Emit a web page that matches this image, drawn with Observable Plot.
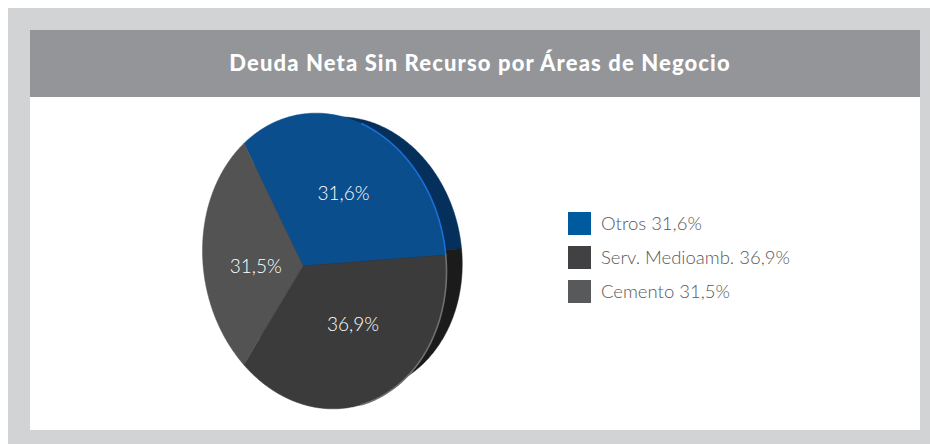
<!DOCTYPE html>
<html lang="es">
<head>
<meta charset="utf-8">
<script src="https://cdn.jsdelivr.net/npm/d3@7"></script>
<script src="https://cdn.jsdelivr.net/npm/@observablehq/plot@0.6"></script>
<style>
  html, body { margin: 0; padding: 0; background: #fff; width: 930px; height: 444px; overflow: hidden; }
  #frame { position: absolute; left: 8px; top: 8px; width: 922px; height: 436px; background: #d1d3d4; }
  #panel { position: absolute; left: 22px; top: 22px; width: 890px; height: 400px; background: #fff; }
  #title { margin: 0; height: 67px; padding-left: 10px; box-sizing: border-box; text-align: center; background: #939598; color: #fff;
           font: 900 22px/66px Lato, sans-serif; letter-spacing: 1.12px; }
  #chart { position: absolute; left: 0; top: 67px; }
  #chart svg { display: block; }
  #legend { position: absolute; left: 538px; top: 176px; font: 300 18.5px Lato, sans-serif; color: #58595b; }
  .row { display: flex; align-items: center; height: 34px; }
  .sw { width: 23px; height: 23px; margin-right: 10px; }
</style>
</head>
<body>
<div id="frame"><div id="panel">
  <h1 id="title">Deuda Neta Sin Recurso por Áreas de Negocio</h1>
  <div id="chart"></div>
  <div id="legend"></div>
</div></div>
<script>
const names = ["Otros", "Serv. Medioamb.", "Cemento"];
const values = [31.6, 36.9, 31.5];
const valueLabels = ["31,6%", "36,9%", "31,5%"];
const faceColors = ["#0a4e8d", "#3a3b3a", "#525352"];
const sideColors = ["#05305c", "#1b1b1b", "#1b1b1b"];
const rimColors = ["#1a6fd6", "#6f7071", "#525352"];
const legendColors = ["#005a9e", "#414042", "#58595b"];
const labelNudge = [[11, 2], [15, -14], [12, 9]];

// View of the disc in perspective: the centre of the pie sits off the centre of its outline, which leans a little.
const tilt = [-0.176, 0.046];
const lean = 0.07;
function view([x, y]) {
  const [ax, ay] = tilt, a2 = ax * ax + ay * ay, s = Math.sqrt(1 - a2);
  const d = x * ax + y * ay, k = d / a2;
  const den = 1 + d;
  const px = (ax + k * ax + s * (x - k * ax)) / den, py = (ay + k * ay + s * (y - k * ay)) / den;
  return [px, py + lean * px];
}
const deg = Math.PI / 180;
const polar = (r, t) => view([r * Math.sin(t), -r * Math.cos(t)]);

const start = -31.5 * deg;
const arcs = d3.pie().sort(null).startAngle(start).endAngle(start + 2 * Math.PI)(values);

function arcPts(a) {
  const n = Math.ceil((a.endAngle - a.startAngle) / 0.01);
  return d3.range(n + 1).map(i => polar(1, a.startAngle + (a.endAngle - a.startAngle) * i / n));
}
const face = arcs.flatMap((a, i) =>
  [polar(0, 0), ...arcPts(a), polar(0, 0)].map(([x, y]) => ({x, y, i, name: names[i]})));
// Highlight only on the right-hand edge, where the disc turns away.
const rim = arcs.flatMap((a, i) => arcPts(a).map(([x, y]) => ({x, y, i}))).filter(d => d.x > 0.3 && d.i < 2);
// Back of the disc: same wedges on an outline shifted right and slightly smaller.
const backX = x => 0.186 + x * 0.943, backY = y => -0.045 + y * 0.93;
const back = face.map(d => ({...d, x: backX(d.x), y: backY(d.y)}));
const labels = arcs.map((a, i) => {
  const [x, y] = polar(0.55, (a.startAngle + a.endAngle) / 2);
  return {x, y, text: valueLabels[i], i};
});

const chart = Plot.plot({
  width: 890, height: 333, margin: 0,
  x: {domain: [-1, 1], range: [172, 416], axis: null},
  y: {domain: [-1, 1], range: [16, 311], axis: null},
  style: {background: "transparent"},
  marks: [
    Plot.line(back, {x: "x", y: "y", z: "i", fill: d => sideColors[d.i], stroke: d => sideColors[d.i], strokeWidth: 0.5, curve: "linear"}),
    Plot.line(face, {x: "x", y: "y", z: "i", fill: d => faceColors[d.i], stroke: d => faceColors[d.i], strokeWidth: 0.5, curve: "linear"}),
    Plot.line(rim, {x: "x", y: "y", z: "i", stroke: d => rimColors[d.i], strokeWidth: 1.6, curve: "linear"}),
    ...labels.map(l => Plot.text([l], {
      x: "x", y: "y", text: "text", dx: labelNudge[l.i][0], dy: labelNudge[l.i][1],
      fill: "#ffffff", fontSize: 19, fontFamily: "Lato, sans-serif", fontWeight: 300
    }))
  ]
});
document.getElementById("chart").append(chart);

const legend = document.getElementById("legend");
names.forEach((n, i) => {
  const row = document.createElement("div");
  row.className = "row";
  const sw = document.createElement("div");
  sw.className = "sw";
  sw.style.background = legendColors[i];
  const t = document.createElement("span");
  t.textContent = `${n} ${valueLabels[i]}`;
  row.append(sw, t);
  legend.append(row);
});
</script>
</body>
</html>
